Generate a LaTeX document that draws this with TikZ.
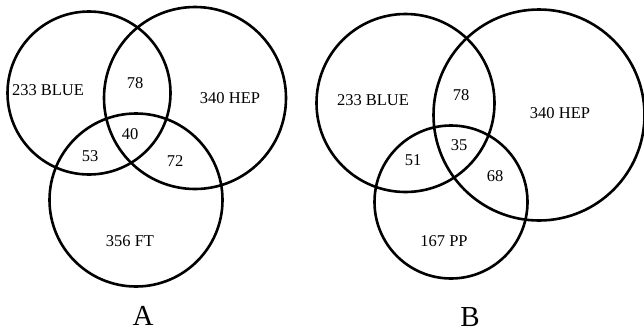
\documentclass[tikz,border=0pt]{standalone}
\usepackage{fontspec}
\setmainfont{Liberation Serif}
\begin{document}
\begin{tikzpicture}[x=1pt,y=-1pt,
  setc/.style={circle,draw=black,line width=2.6pt,inner sep=0pt,minimum size=#1},
  lbl/.style={font=\fontsize{16.5}{19}\selectfont,inner sep=0pt},
  figcap/.style={font=\fontsize{29}{32}\selectfont,inner sep=0pt}]
\useasboundingbox (0,0) rectangle (644,332);
% Diagram A
\node[setc=163pt] (blueA) at (89,93) {};
\node[setc=182pt] (hepA) at (195,98) {};
\node[setc=173pt] (ftA) at (136,200) {};
\node[lbl] (tBlueA) at (48,90) {233 BLUE};
\node[lbl] (t78A) at (135,83) {78};
\node[lbl] (tHepA) at (230,98) {340 HEP};
\node[lbl] (t40A) at (130,134) {40};
\node[lbl] (t53A) at (90,156) {53};
\node[lbl] (t72A) at (175,161) {72};
\node[lbl] (tFtA) at (130,241) {356 FT};
\node[figcap] (capA) at (143,316) {A};
% Diagram B
\node[setc=178pt] (blueB) at (405.5,103) {};
\node[setc=211pt] (hepB) at (539,115) {};
\node[setc=153pt] (ppB) at (451,202) {};
\node[lbl] (tBlueB) at (373,100) {233 BLUE};
\node[lbl] (t78B) at (461,95) {78};
\node[lbl] (tHepB) at (560,113) {340 HEP};
\node[lbl] (t35B) at (459,145) {35};
\node[lbl] (t51B) at (413,160) {51};
\node[lbl] (t68B) at (495,176) {68};
\node[lbl] (tPpB) at (444,241) {167 PP};
\node[figcap] (capB) at (470,317) {B};
\end{tikzpicture}
\end{document}
